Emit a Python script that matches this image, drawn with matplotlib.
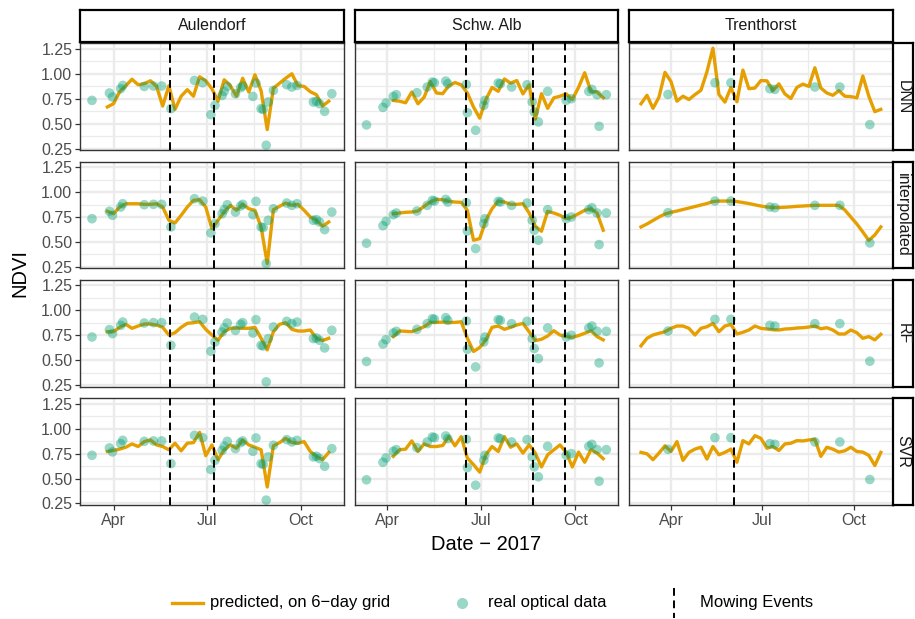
import numpy as np
import matplotlib
matplotlib.use("Agg")
import matplotlib.pyplot as plt
import matplotlib.dates as mdates

plt.rcParams['font.family'] = ['Liberation Sans', 'DejaVu Sans']

sites = ['Aulendorf', 'Schw. Alb', 'Trenthorst']
methods = ['DNN', 'interpolated', 'RF', 'SVR']

# first date of the 6-day prediction grid at each site
grid_start = {'Aulendorf': '2017-03-26', 'Schw. Alb': '2017-04-07', 'Trenthorst': '2017-03-02'}

# real optical observations: day of year (1 Jan = 0) and NDVI
aul_obs_doy = [69, 86, 89, 97, 99, 120, 129, 137, 146, 169, 177, 185, 189, 196, 198, 201, 209,
               214, 216, 226, 229, 234, 236, 239, 241, 246, 259, 264, 269, 285, 288, 291, 296, 303]
aul_obs_ndvi = [0.733, 0.807, 0.767, 0.85, 0.883, 0.873, 0.877, 0.877, 0.65, 0.933, 0.91, 0.59,
                0.683, 0.783, 0.823, 0.873, 0.80, 0.86, 0.877, 0.773, 0.907, 0.65, 0.643, 0.283,
                0.717, 0.833, 0.89, 0.867, 0.883, 0.717, 0.723, 0.70, 0.623, 0.80]

alb_obs_doy = [70, 86, 89, 96, 99, 119, 129, 134, 136, 147, 149, 167, 168, 176, 184, 185, 198,
               200, 211, 226, 231, 233, 237, 246, 264, 269, 286, 289, 294, 296, 303]
alb_obs_ndvi = [0.487, 0.663, 0.707, 0.773, 0.79, 0.81, 0.867, 0.917, 0.91, 0.927, 0.90, 0.893,
                0.61, 0.433, 0.683, 0.733, 0.907, 0.90, 0.867, 0.89, 0.717, 0.617, 0.517, 0.823,
                0.733, 0.75, 0.823, 0.843, 0.79, 0.473, 0.79]

tre_obs_doy = [87, 134, 150, 189, 194, 234, 259, 289]
tre_obs_ndvi = [0.793, 0.91, 0.91, 0.85, 0.843, 0.867, 0.867, 0.49]

# predicted NDVI on the 6-day grid
aul_dnn = [0.667, 0.70, 0.82, 0.88, 0.945, 0.89, 0.90, 0.93, 0.873, 0.676, 0.88, 0.643, 0.775,
           0.84, 0.775, 0.97, 0.93, 0.85, 0.725, 0.94, 0.88, 0.775, 0.955, 0.817, 0.99, 0.83,
           0.44, 0.855, 0.905, 0.955, 1.00, 0.88, 0.873, 0.82, 0.79, 0.676, 0.725]
aul_interp = [0.807, 0.783, 0.85, 0.883, 0.883, 0.883, 0.877, 0.877, 0.883, 0.85, 0.717, 0.69,
              0.767, 0.85, 0.917, 0.923, 0.85, 0.633, 0.717, 0.80, 0.867, 0.817, 0.877, 0.833,
              0.817, 0.65, 0.283, 0.823, 0.857, 0.89, 0.867, 0.877, 0.817, 0.75, 0.717, 0.657, 0.70]
aul_rf = [0.786, 0.786, 0.83, 0.86, 0.82, 0.843, 0.863, 0.863, 0.853, 0.83, 0.753, 0.776, 0.83,
          0.87, 0.876, 0.886, 0.81, 0.753, 0.70, 0.786, 0.82, 0.823, 0.82, 0.82, 0.83, 0.72,
          0.604, 0.786, 0.86, 0.876, 0.81, 0.793, 0.793, 0.803, 0.72, 0.697, 0.72]
aul_svr = [0.771, 0.781, 0.795, 0.814, 0.847, 0.821, 0.87, 0.887, 0.837, 0.821, 0.788, 0.854,
           0.778, 0.854, 0.86, 0.963, 0.729, 0.837, 0.689, 0.788, 0.837, 0.804, 0.887, 0.837,
           0.814, 0.788, 0.415, 0.828, 0.86, 0.903, 0.86, 0.854, 0.87, 0.771, 0.722, 0.689, 0.761]

alb_dnn = [0.732, 0.725, 0.709, 0.817, 0.699, 0.765, 0.922, 0.807, 0.80, 0.879, 0.912, 0.889,
           0.807, 0.666, 0.555, 0.742, 0.863, 0.824, 0.948, 0.906, 0.932, 0.798, 0.889, 0.545,
           0.80, 0.653, 0.758, 0.775, 0.798, 0.742, 0.863, 1.01, 0.824, 0.817, 0.758]
alb_interp = [0.783, 0.79, 0.797, 0.80, 0.81, 0.857, 0.90, 0.927, 0.923, 0.907, 0.90, 0.897,
              0.817, 0.517, 0.533, 0.717, 0.833, 0.91, 0.90, 0.877, 0.877, 0.883, 0.79, 0.657,
              0.607, 0.807, 0.79, 0.767, 0.733, 0.75, 0.783, 0.817, 0.833, 0.79, 0.617]
alb_rf = [0.737, 0.793, 0.79, 0.786, 0.81, 0.836, 0.879, 0.879, 0.882, 0.879, 0.879, 0.886,
          0.72, 0.588, 0.627, 0.704, 0.83, 0.843, 0.81, 0.83, 0.853, 0.869, 0.786, 0.697, 0.71,
          0.743, 0.796, 0.753, 0.737, 0.73, 0.747, 0.77, 0.796, 0.737, 0.704]
alb_svr = [0.722, 0.788, 0.795, 0.877, 0.771, 0.847, 0.821, 0.821, 0.831, 0.92, 0.828, 0.92,
           0.705, 0.639, 0.564, 0.738, 0.821, 0.771, 0.92, 0.814, 0.847, 0.755, 0.837, 0.755,
           0.616, 0.738, 0.788, 0.837, 0.762, 0.616, 0.765, 0.663, 0.788, 0.755, 0.699]

tre_dnn = [0.699, 0.784, 0.653, 0.765, 1.014, 0.922, 0.725, 0.775, 0.742, 0.791, 0.834, 1.02,
           1.257, 0.791, 0.716, 0.863, 0.719, 1.037, 0.85, 0.857, 0.932, 0.929, 0.83, 0.899,
           0.798, 0.752, 0.863, 0.896, 0.873, 1.06, 0.857, 0.807, 0.784, 0.83, 0.775, 0.771,
           0.758, 0.978, 0.775, 0.62, 0.643]
tre_interp = [0.65, 0.68, 0.715, 0.75, 0.78, 0.797, 0.81, 0.825, 0.84, 0.855, 0.87, 0.885, 0.905,
              0.91, 0.91, 0.91, 0.905, 0.895, 0.885, 0.872, 0.86, 0.85, 0.845, 0.845, 0.848,
              0.852, 0.857, 0.86, 0.864, 0.867, 0.867, 0.867, 0.867, 0.867, 0.82, 0.75, 0.68,
              0.60, 0.515, 0.57, 0.65]
tre_rf = [0.644, 0.72, 0.753, 0.77, 0.786, 0.82, 0.843, 0.843, 0.82, 0.753, 0.82, 0.836, 0.869,
          0.786, 0.843, 0.859, 0.763, 0.78, 0.803, 0.843, 0.82, 0.813, 0.806, 0.803, 0.813,
          0.816, 0.823, 0.826, 0.833, 0.843, 0.816, 0.826, 0.803, 0.763, 0.763, 0.803, 0.776,
          0.72, 0.737, 0.704, 0.76]
tre_svr = [0.762, 0.748, 0.689, 0.755, 0.828, 0.771, 0.87, 0.682, 0.762, 0.795, 0.814, 0.695,
           0.821, 0.738, 0.762, 0.795, 0.663, 0.88, 0.847, 0.93, 0.903, 0.804, 0.821, 0.781,
           0.847, 0.854, 0.88, 0.877, 0.887, 0.894, 0.722, 0.814, 0.795, 0.765, 0.778, 0.814,
           0.771, 0.765, 0.732, 0.63, 0.762]

mowing = {'Aulendorf': ['2017-05-26', '2017-07-08'],
          'Schw. Alb': ['2017-06-17', '2017-08-21', '2017-09-21'],
          'Trenthorst': ['2017-06-03']}

obs = {'Aulendorf': (aul_obs_doy, aul_obs_ndvi),
       'Schw. Alb': (alb_obs_doy, alb_obs_ndvi),
       'Trenthorst': (tre_obs_doy, tre_obs_ndvi)}
pred = {('Aulendorf', 'DNN'): aul_dnn, ('Aulendorf', 'interpolated'): aul_interp,
        ('Aulendorf', 'RF'): aul_rf, ('Aulendorf', 'SVR'): aul_svr,
        ('Schw. Alb', 'DNN'): alb_dnn, ('Schw. Alb', 'interpolated'): alb_interp,
        ('Schw. Alb', 'RF'): alb_rf, ('Schw. Alb', 'SVR'): alb_svr,
        ('Trenthorst', 'DNN'): tre_dnn, ('Trenthorst', 'interpolated'): tre_interp,
        ('Trenthorst', 'RF'): tre_rf, ('Trenthorst', 'SVR'): tre_svr}

LINE_COL = '#E69F00'
PT_COL = '#009E73'
GRID_COL = '#EBEBEB'
LINE_W = 2.4
DASH = (0, (4, 2.4))
jan1 = np.datetime64('2017-01-01')


def to_num(dates):
    return mdates.date2num(np.asarray(dates, dtype='datetime64[D]'))


W, H = 915, 619
fig = plt.figure(figsize=(W / 100, H / 100), dpi=100)


def rect(x, y, w, h):
    return [x / W, 1 - (y + h) / H, w / W, h / H]


col_x = [80, 354.5, 629]
row_y = [43.3, 161.6, 279.9, 398.2]
pw, ph = 263.8, 106.8

# y range shared by all panels, with 5% padding
all_y = np.concatenate([np.concatenate([obs[s][1] for s in sites]),
                        np.concatenate(list(pred.values()))])
ypad = 0.05 * (all_y.max() - all_y.min())
ylim = (all_y.min() - ypad, all_y.max() + ypad)

major_x = to_num(['2017-04-01', '2017-07-01', '2017-10-01'])
minor_x = (major_x[:-1] + major_x[1:]) / 2
major_y = [0.25, 0.5, 0.75, 1.0, 1.25]
minor_y = [0.375, 0.625, 0.875, 1.125]

for j, site in enumerate(sites):
    n = len(pred[(site, 'DNN')])
    grid = np.datetime64(grid_start[site]) + 6 * np.arange(n)
    gx = to_num(grid)
    ox = to_num(jan1 + np.array(obs[site][0]).astype('timedelta64[D]'))
    lo = min(gx.min(), ox.min())
    hi = max(gx.max(), ox.max())
    xpad = 0.05 * (hi - lo)

    for i, method in enumerate(methods):
        ax = fig.add_axes(rect(col_x[j], row_y[i], pw, ph))
        ax.set_xlim(lo - xpad, hi + xpad)
        ax.set_ylim(*ylim)
        ax.set_xticks(major_x)
        ax.set_xticks(minor_x, minor=True)
        ax.set_yticks(major_y)
        ax.set_yticks(minor_y, minor=True)
        ax.grid(which='major', color=GRID_COL, lw=1.7)
        ax.grid(which='minor', color=GRID_COL, lw=0.9)
        ax.set_axisbelow(True)
        for sp in ax.spines.values():
            sp.set_color('#333333')
            sp.set_linewidth(1.0)
        ax.tick_params(which='major', length=3.5, width=0.9, color='#333333',
                       labelcolor='#4D4D4D', labelsize=11.5, pad=2)
        ax.tick_params(which='minor', length=0)
        ax.xaxis.set_major_formatter(mdates.DateFormatter('%b'))
        ax.yaxis.set_major_formatter(plt.FuncFormatter(lambda v, p: f'{v:.2f}'))
        if i < 3:
            ax.tick_params(axis='x', which='major', length=0, labelbottom=False)
        if j > 0:
            ax.tick_params(axis='y', which='major', length=0, labelleft=False)

        ax.plot(gx, pred[(site, method)], color=LINE_COL, lw=LINE_W,
                solid_joinstyle='round', zorder=3)
        ax.scatter(ox, obs[site][1], s=48, color=PT_COL, alpha=0.4,
                   edgecolors='none', zorder=4)
        for d in to_num(mowing[site]):
            ax.axvline(d, color='black', lw=1.4, ls=DASH, zorder=5)

        if j == 2:
            sax = fig.add_axes(rect(col_x[j] + pw, row_y[i], 20, ph))
            sax.set_xticks([]); sax.set_yticks([])
            for sp in sax.spines.values():
                sp.set_linewidth(1.6)
                sp.set_color('black')
            sax.text(0.5, 0.5, method, rotation=-90, ha='center', va='center',
                     fontsize=11.5, color='#1A1A1A', transform=sax.transAxes)

    tax = fig.add_axes(rect(col_x[j], 10, pw, 32))
    tax.set_xticks([]); tax.set_yticks([])
    for sp in tax.spines.values():
        sp.set_linewidth(1.6)
        sp.set_color('black')
    tax.text(0.5, 0.5, site, ha='center', va='center', fontsize=11.5,
             color='#1A1A1A', transform=tax.transAxes)

fig.text(20 / W, 1 - 273 / H, 'NDVI', rotation=90, ha='center', va='center', fontsize=14.5)
fig.text(486 / W, 1 - 545 / H, 'Date \u2212 2017', ha='center', va='center', fontsize=14.5)

# legend along the bottom
ly = 1 - 603 / H
fig.add_artist(plt.Line2D([172 / W, 203 / W], [ly, ly], color=LINE_COL, lw=LINE_W))
fig.text(210 / W, ly, 'predicted, on 6\u2212day grid', va='center', fontsize=12)
fig.add_artist(plt.Line2D([462 / W], [ly], marker='o', markersize=8, color=PT_COL,
                          alpha=0.4, markeredgewidth=0, linestyle='none'))
fig.text(488 / W, ly, 'real optical data', va='center', fontsize=12)
fig.add_artist(plt.Line2D([674 / W, 674 / W], [1 - 588 / H, 1 - 618 / H], color='black',
                          lw=1.4, ls=DASH))
fig.text(700 / W, ly, 'Mowing Events', va='center', fontsize=12)

fig.savefig('out.png', dpi=100)
